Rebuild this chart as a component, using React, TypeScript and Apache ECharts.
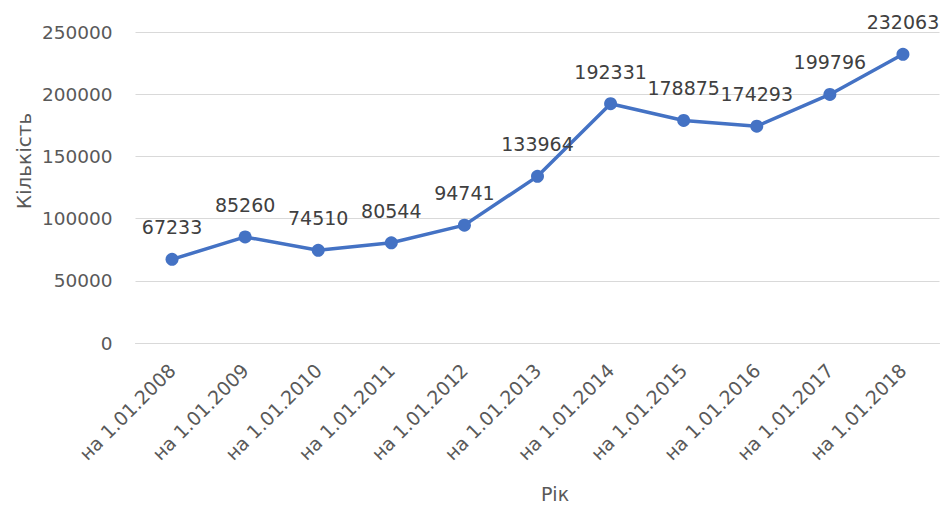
import React, { useEffect, useRef } from "react";
import * as echarts from "echarts";

const categories = [
  "на 1.01.2008",
  "на 1.01.2009",
  "на 1.01.2010",
  "на 1.01.2011",
  "на 1.01.2012",
  "на 1.01.2013",
  "на 1.01.2014",
  "на 1.01.2015",
  "на 1.01.2016",
  "на 1.01.2017",
  "на 1.01.2018",
];
const values = [67233, 85260, 74510, 80544, 94741, 133964, 192331, 178875, 174293, 199796, 232063];
const yAxisTitle = "Кількість";
const xAxisTitle = "Рік";

const FONT = "'DejaVu Sans', 'Noto Sans', sans-serif";

export default function App() {
  const ref = useRef<HTMLDivElement>(null);
  useEffect(() => {
    if (!ref.current) return;
    const chart = echarts.init(ref.current, null, { renderer: "svg" });
    chart.setOption({
      animation: false,
      backgroundColor: "#ffffff",
      textStyle: { fontFamily: FONT },
      grid: { left: 135.5, right: 2.5, top: 32, bottom: 165, containLabel: false },
      xAxis: {
        type: "category",
        data: categories,
        boundaryGap: true,
        axisLine: { show: true, lineStyle: { color: "#d9d9d9", width: 1 } },
        axisTick: { show: false },
        axisLabel: {
          rotate: 45,
          interval: 0,
          color: "#595959",
          fontSize: 19,
          fontFamily: FONT,
          margin: 24,
        },
      },
      yAxis: {
        type: "value",
        min: 0,
        max: 250000,
        interval: 50000,
        axisLine: { show: false },
        axisTick: { show: false },
        splitLine: { show: true, lineStyle: { color: "#d9d9d9", width: 1 } },
        axisLabel: {
          color: "#595959",
          fontSize: 18.5,
          fontFamily: FONT,
          margin: 23,
          formatter: (v: number) => String(v),
        },
      },
      graphic: [
        {
          type: "text",
          x: 24,
          y: 161,
          rotation: Math.PI / 2,
          style: {
            text: yAxisTitle,
            fill: "#595959",
            font: `20px ${FONT}`,
            textAlign: "center",
            textVerticalAlign: "middle",
          },
        },
        {
          type: "text",
          x: 555,
          y: 494,
          style: {
            text: xAxisTitle,
            fill: "#595959",
            font: `19px ${FONT}`,
            textAlign: "center",
            textVerticalAlign: "middle",
          },
        },
      ],
      series: [
        {
          type: "line",
          data: values,
          symbol: "circle",
          symbolSize: 13,
          lineStyle: { color: "#4472c4", width: 3.5 },
          itemStyle: { color: "#4472c4" },
          label: {
            show: true,
            position: "top",
            distance: 16,
            color: "#404040",
            fontSize: 19,
            fontFamily: FONT,
          },
        },
      ],
    });
    return () => chart.dispose();
  }, []);
  return (
    <div
      ref={ref}
      style={{ position: "fixed", left: 0, top: 0, width: 942, height: 508 }}
    />
  );
}
